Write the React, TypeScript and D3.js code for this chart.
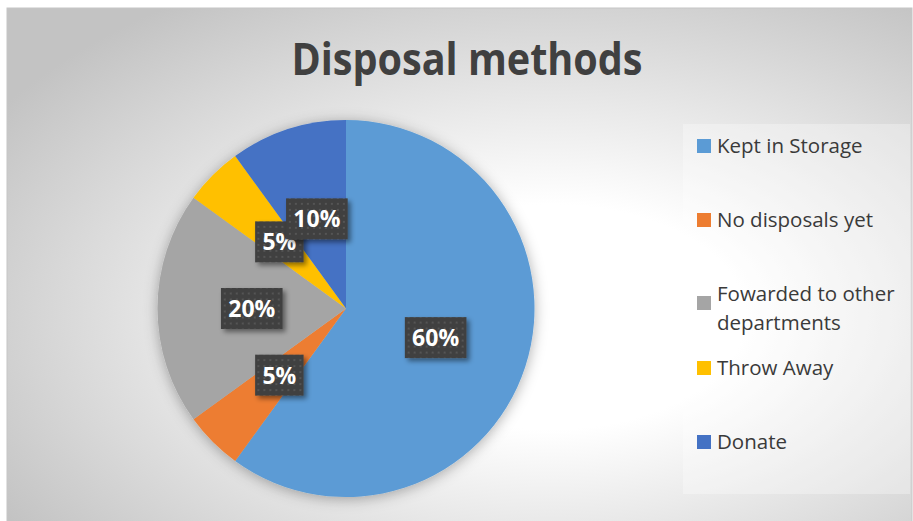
import React from "react";
import * as d3 from "d3";

// Chart data
const categories = [
  "Kept in Storage",
  "No disposals yet",
  "Fowarded to other departments",
  "Throw Away",
  "Donate",
];
const legendLines = [
  ["Kept in Storage"],
  ["No disposals yet"],
  ["Fowarded to other", "departments"],
  ["Throw Away"],
  ["Donate"],
];
const values = [60, 5, 20, 5, 10];
const colors = ["#5B9BD5", "#ED7D31", "#A5A5A5", "#FFC000", "#4472C4"];
const title = "Disposal methods";

const W = 913;
const H = 521;
const frame = { x: 7, y: 8, w: 905, h: 520 };
const center = { x: 346, y: 308.5 };
const radius = 188.5;
const legendBox = { x: 683, y: 124, w: 227, h: 370 };
const FONT = "'Open Sans', 'DejaVu Sans', sans-serif";

type Slice = d3.PieArcDatum<number>;

export default function App() {
  const total = d3.sum(values);
  const pie = d3
    .pie<number>()
    .sort(null)
    .value((d) => d)
    .startAngle(0)
    .endAngle(2 * Math.PI);
  const arcs: Slice[] = pie(values);
  const arc = d3.arc<Slice>().innerRadius(0).outerRadius(radius);

  const legendY = d3
    .scaleLinear()
    .domain([0, categories.length - 1])
    .range([146, 442]);

  const labelFont = 23;
  const labelWidth = (s: string) => {
    const digits = s.replace("%", "").length;
    return 16 + digits * 0.572 * labelFont + 0.84 * labelFont;
  };

  return (
    <svg
      width={W}
      height={H}
      style={{ position: "absolute", left: 0, top: 0, display: "block" }}
      fontFamily={FONT}
    >
      <defs>
        <radialGradient id="bg" cx="0.6" cy="0.58" r="0.72" fx="0.6" fy="0.6">
          <stop offset="0" stopColor="#ffffff" />
          <stop offset="0.3" stopColor="#ffffff" />
          <stop offset="1" stopColor="#c3c3c3" />
        </radialGradient>
        <pattern id="dots" width="6" height="6" patternUnits="userSpaceOnUse">
          <rect width="6" height="6" fill="#404040" />
          <rect x="2" y="2" width="2" height="2" fill="#545454" />
        </pattern>
        <filter id="pieShadow" x="-20%" y="-20%" width="140%" height="140%">
          <feDropShadow dx="0" dy="2" stdDeviation="7" floodColor="#000" floodOpacity="0.32" />
        </filter>
        <filter id="boxShadow" x="-30%" y="-30%" width="160%" height="160%">
          <feDropShadow dx="3" dy="3" stdDeviation="2.5" floodColor="#000" floodOpacity="0.45" />
        </filter>
      </defs>

      {/* chart area */}
      <rect
        x={frame.x}
        y={frame.y}
        width={frame.w}
        height={frame.h}
        fill="url(#bg)"
        stroke="#c6c6c6"
        strokeWidth={1}
      />

      {/* title */}
      <text
        x={467}
        y={75}
        textAnchor="middle"
        fontSize={44}
        fontWeight={700}
        fill="#404040"
        textLength={351}
        lengthAdjust="spacingAndGlyphs"
      >
        {title}
      </text>

      {/* pie */}
      <g transform={`translate(${center.x},${center.y})`}>
        <g filter="url(#pieShadow)">
          {arcs.map((a, i) => (
            <path key={categories[i]} d={arc(a) || ""} fill={colors[i]} />
          ))}
        </g>
        {arcs.map((a, i) => {
          const [cx, cy] = arc.centroid(a);
          const txt = `${Math.round((a.data / total) * 100)}%`;
          const w = labelWidth(txt);
          const h = 41;
          return (
            <g key={"lbl" + i} transform={`translate(${cx},${cy})`}>
              <rect
                x={-w / 2}
                y={-h / 2}
                width={w}
                height={h}
                fill="url(#dots)"
                filter="url(#boxShadow)"
              />
              <text
                x={0}
                y={8.5}
                textAnchor="middle"
                fontSize={labelFont}
                fontWeight={700}
                fill="#ffffff"
              >
                {txt}
              </text>
            </g>
          );
        })}
      </g>

      {/* legend */}
      <rect
        x={legendBox.x}
        y={legendBox.y}
        width={legendBox.w}
        height={legendBox.h}
        fill="#ffffff"
        fillOpacity={0.3}
      />
      {legendLines.map((lines, i) => {
        const y0 = legendY(i);
        return (
          <g key={categories[i]}>
            <rect
              x={697}
              y={y0 - 7 + (lines.length - 1) * 9}
              width={14}
              height={14}
              fill={colors[i]}
            />
            <text x={717} y={y0 + 7} fontSize={20.5} fill="#3a3a3a">
              {lines.map((ln, j) => (
                <tspan key={j} x={717} dy={j === 0 ? 0 : 29}>
                  {ln}
                </tspan>
              ))}
            </text>
          </g>
        );
      })}
    </svg>
  );
}
